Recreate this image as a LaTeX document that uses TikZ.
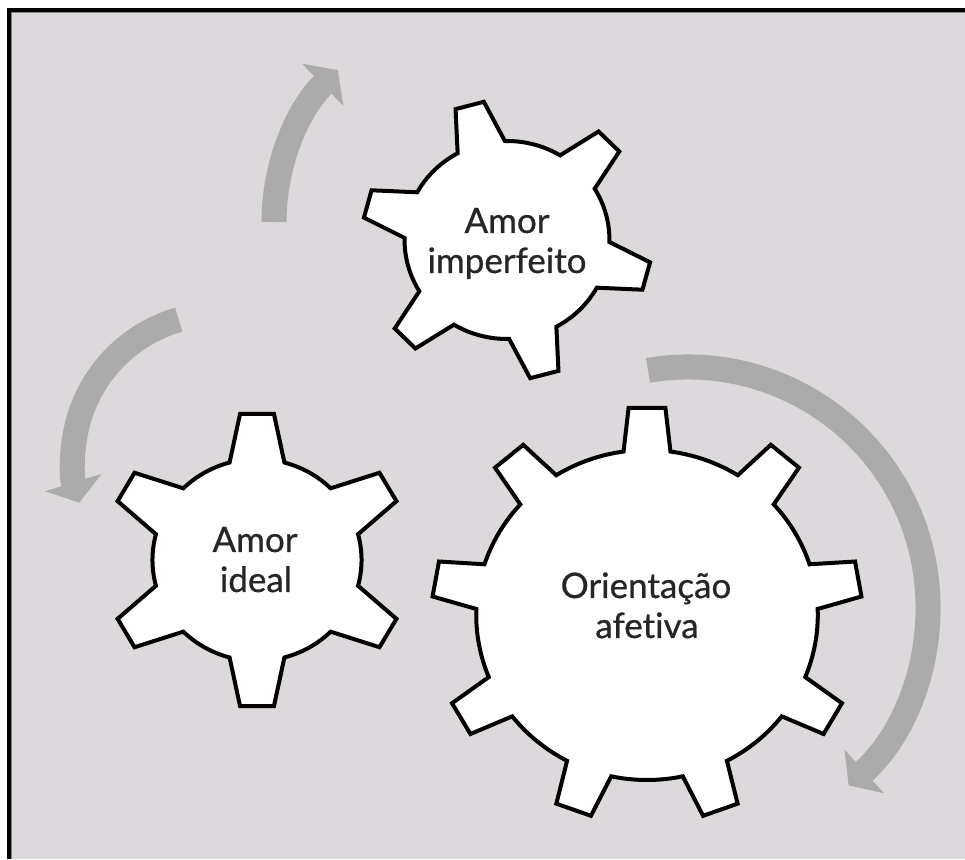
\documentclass[tikz,border=0pt]{standalone}
\usepackage{fontspec}
\setmainfont{Lato}[Ligatures=NoCommon]
\newfontfamily\gearfont{Lato}[Ligatures=NoCommon, FakeBold=0.7]
\usetikzlibrary{arrows.meta}
\definecolor{bgl}{RGB}{220,216,220}
\definecolor{arrg}{RGB}{171,171,171}
\definecolor{txtc}{RGB}{38,38,38}
\tikzset{
  gearline/.style={draw=black, fill=white, line width=4pt, line join=miter},
  lbl/.style={font=\gearfont\fontsize{35}{40}\selectfont, text=txtc, anchor=base, inner sep=0pt},
  arr/.style={draw=arrg, line width=25pt, -{Triangle[width=58pt,length=21pt]}},
}
% #1 cx, #2 cy, #3 teeth, #4 first tooth angle, #5 root radius, #6 tip radius, #7 base half angle, #8 tip half angle
\newcommand\mygear[8]{%
  \begin{scope}[shift={(#1,#2)},xscale=1.035]
    \pgfmathsetmacro\gst{360/#3}
    \draw[gearline] ({#4-#7}:#5)
      \foreach \k in {1,...,#3} {
        -- ({#4+(\k-1)*\gst-#8}:#6) -- ({#4+(\k-1)*\gst+#8}:#6)
        -- ({#4+(\k-1)*\gst+#7}:#5)
        arc[start angle={#4+(\k-1)*\gst+#7}, end angle={#4+\k*\gst-#7}, radius=#5]
      } -- cycle;
  \end{scope}}
\begin{document}
\begin{tikzpicture}[x=1pt,y=1pt]
  \useasboundingbox (0,0) rectangle (965,859);
  \fill[white] (0,0) rectangle (965,859);
  \fill[bgl] (9,0) rectangle (965,849);
  \draw[gray, line width=1.5pt] (11.5,0) -- (11.5,846.5) -- (965,846.5);
  \draw[black, line width=4pt] (9,0) -- (9,849) -- (965,849);

  % arrow centres
  \coordinate (A1) at (487,637);
  \coordinate (A2) at (219,399);
  \coordinate (A3) at (688,252);

  \draw[arr] ([shift={(180:213)}]A1) arc[start angle=180, end angle=134.5, radius=213];
  \draw[arr] ([shift={(106:146)}]A2) arc[start angle=106, end angle=197, radius=146];
  \draw[arr] ([shift={(99.6:240)}]A3) arc[start angle=99.6, end angle=-48, radius=240];

  % gears
  \mygear{507}{619}{6}{105}{99}{140}{13.8}{5.8}
  \mygear{257}{299}{6}{90}{101}{147}{15.2}{6.4}
  \mygear{647}{244}{9}{90}{165}{208}{7.9}{4.9}

  \node[lbl] (g1a) at (507,626) {Amor};
  \node[lbl] (g1b) at (507,586) {imperfeito};
  \node[lbl] (g2a) at (255,307) {Amor};
  \node[lbl] (g2b) at (256,267) {ideal};
  \node[lbl] (g3a) at (646,261) {Orientação};
  \node[lbl] (g3b) at (647,221) {afetiva};
\end{tikzpicture}
\end{document}
